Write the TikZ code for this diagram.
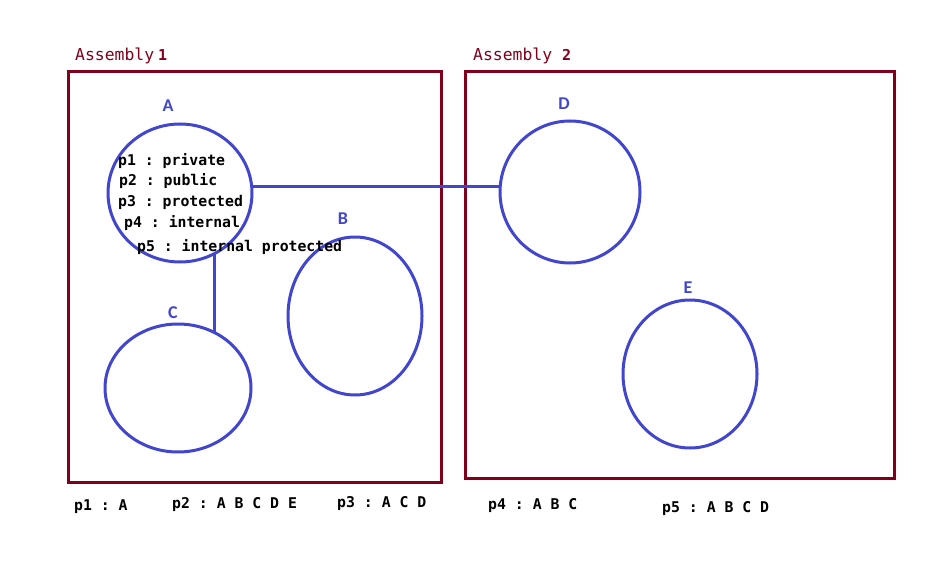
\documentclass[tikz,border=0pt]{standalone}
\usepackage{fontspec}
\setmonofont{DejaVu Sans Mono}
\newfontfamily\lblfont{Carlito}
\usetikzlibrary{shapes.geometric,backgrounds,calc}
\definecolor{asmred}{RGB}{128,0,28}
\definecolor{setblue}{RGB}{66,70,204}
\tikzset{
  asmbox/.style={draw=asmred,line width=3pt,anchor=north west,inner sep=0pt,outer sep=0pt},
  asmtitle/.style={anchor=base west,inner sep=0pt,text=asmred,font=\ttfamily\fontsize{16.4}{18}\selectfont},
  setell/.style={ellipse,draw=setblue,line width=3pt,fill=white,inner sep=0pt,outer sep=0pt},
  setlbl/.style={anchor=base,inner sep=0pt,text=setblue,font=\lblfont\bfseries\fontsize{18}{20}\selectfont},
  ptext/.style={anchor=base west,inner sep=0pt,font=\ttfamily\bfseries\fontsize{14.8}{16}\selectfont},
  conn/.style={draw=setblue,line width=3pt},
}
\begin{document}
\begin{tikzpicture}[x=1pt,y=-1pt]
\useasboundingbox (0,0) rectangle (931,575);
% sets
\node[setell,minimum width=144pt,minimum height=138pt] (A) at (180,193) {};
\node[setell,minimum width=134pt,minimum height=158pt] (B) at (355,316) {};
\node[setell,minimum width=146pt,minimum height=128pt] (C) at (178,388) {};
\node[setell,minimum width=140pt,minimum height=142pt] (D) at (570,192) {};
\node[setell,minimum width=134pt,minimum height=148pt] (E) at (690,374) {};
\node[setlbl] (lA) at (168,112) {A};
\node[setlbl] (lB) at (343,224) {B};
\node[setlbl] (lC) at (173,318) {C};
\node[setlbl] (lD) at (564,110) {D};
\node[setlbl] (lE) at (688,293) {E};
\node[asmtitle] (t1) at (75,61) {Assembly\kern4pt\textbf{\fontsize{15}{16}\selectfont 1}};
\node[asmtitle] (t2) at (473,61) {Assembly \textbf{\fontsize{15}{16}\selectfont 2}};
% boxes and connectors behind the sets
\begin{scope}[on background layer]
\fill[white] (0,0) rectangle (931,575);
\node[asmbox,minimum width=373pt,minimum height=411pt] (asm1) at (68,71.5) {};
\node[asmbox,minimum width=429pt,minimum height=407pt] (asm2) at (465,71.5) {};
\draw[conn] ($(A.center)+(0,-7)$) -- ($(D.center)+(0,-6)$);
\draw[conn] ($(A.center)+(34,0)$) -- ($(C.center)+(36,0)$);
\end{scope}
% access modifiers
\node[ptext] (m1) at (118,165) {p1 : private};
\node[ptext] (m2) at (119,185.5) {p2 : public};
\node[ptext] (m3) at (118,206.5) {p3 : protected};
\node[ptext] (m4) at (124,227.5) {p4 : internal};
\node[ptext] (m5) at (137,251.5) {p5 : internal protected};
% bottom lists
\node[ptext] (b1) at (74,510) {p1 : A};
\node[ptext] (b2) at (172,508) {p2 : A B C D E};
\node[ptext] (b3) at (337,507) {p3 : A C D};
\node[ptext] (b4) at (488,509) {p4 : A B C};
\node[ptext] (b5) at (662,512) {p5 : A B C D};
\end{tikzpicture}
\end{document}
